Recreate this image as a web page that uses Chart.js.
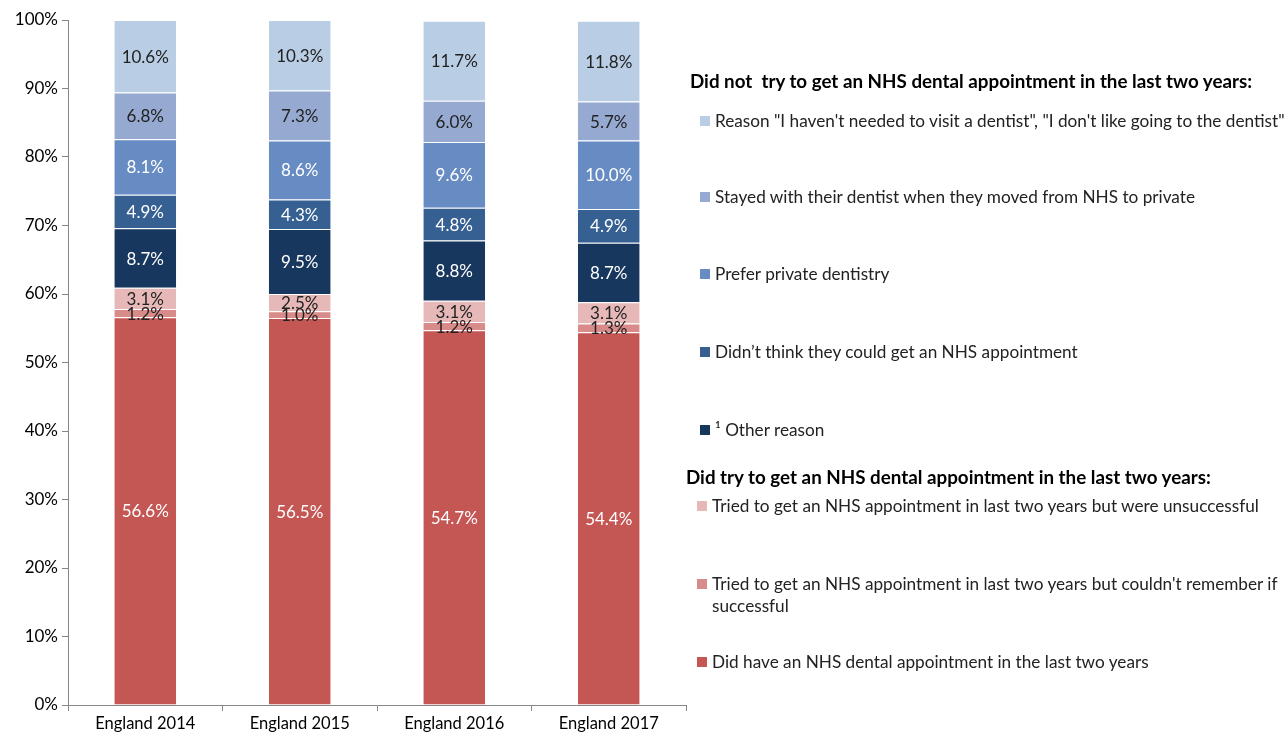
<!DOCTYPE html>
<html>
<head>
<meta charset="utf-8">
<script src="https://cdn.jsdelivr.net/npm/chart.js@4"></script>
<style>
  body { margin: 0; background: #fff; font-family: Lato, "Open Sans", sans-serif; }
  #wrap { position: relative; width: 1288px; height: 737px; overflow: hidden; }
  #chartBox { position: absolute; left: 0; top: 0; width: 692px; height: 737px; }
  #legend { position: absolute; left: 0; top: 0; width: 1288px; height: 737px; pointer-events: none; }
  .head { position: absolute; font-weight: bold; font-size: 18.8px; color: #000; white-space: pre; }
  .item { position: absolute; font-size: 17.2px; color: #222; width: 572px; line-height: 22px; }
  .sw { position: absolute; width: 10px; height: 10px; left: -15px; top: 6px; }
</style>
</head>
<body>
<div id="wrap">
  <div id="chartBox"><canvas id="dentalChart"></canvas></div>
  <div id="legend"></div>
</div>
<script>
const categories = ['England 2014', 'England 2015', 'England 2016', 'England 2017'];

const didHave = [56.6, 56.5, 54.7, 54.4];
const cantRemember = [1.2, 1.0, 1.2, 1.3];
const unsuccessful = [3.1, 2.5, 3.1, 3.1];
const otherReason = [8.7, 9.5, 8.8, 8.7];
const didntThink = [4.9, 4.3, 4.8, 4.9];
const preferPrivate = [8.1, 8.6, 9.6, 10.0];
const stayedWith = [6.8, 7.3, 6.0, 5.7];
const notNeeded = [10.6, 10.3, 11.7, 11.8];

const yTicks = [0, 10, 20, 30, 40, 50, 60, 70, 80, 90, 100];

// bottom to top
const series = [
    { label: 'Did have an NHS dental appointment in the last two years', data: didHave, color: '#C45654', text: '#ffffff' },
    { label: "Tried to get an NHS appointment in last two years but couldn't remember if successful", data: cantRemember, color: '#D98B89', text: '#222222' },
    { label: 'Tried to get an NHS appointment in last two years but were unsuccessful', data: unsuccessful, color: '#E6B8B7', text: '#222222' },
    { label: '\u00b9 Other reason', data: otherReason, color: '#17375E', text: '#ffffff' },
    { label: 'Didn\u2019t think they could get an NHS appointment', data: didntThink, color: '#366092', text: '#ffffff' },
    { label: 'Prefer private dentistry', data: preferPrivate, color: '#678CC3', text: '#ffffff' },
    { label: 'Stayed with their dentist when they moved from NHS to private', data: stayedWith, color: '#95A9D1', text: '#222222' },
    { label: 'Reason "I haven\'t needed to visit a dentist", "I don\'t like going to the dentist"', data: notNeeded, color: '#B9CDE5', text: '#222222' }
];

const labelPlugin = {
    id: 'segLabels',
    afterDatasetsDraw(chart) {
        const ctx = chart.ctx;
        ctx.save();
        ctx.font = '17px Lato, "Open Sans", sans-serif';
        ctx.textAlign = 'center';
        ctx.textBaseline = 'middle';
        chart.data.datasets.forEach(function(ds, i) {
            const meta = chart.getDatasetMeta(i);
            meta.data.forEach(function(bar, j) {
                const mid = (bar.y + bar.base) / 2;
                ctx.fillStyle = series[i].text;
                ctx.fillText(ds.data[j].toFixed(1) + '%', bar.x, mid + 1);
            });
        });
        ctx.restore();
    }
};

const ctx = document.getElementById('dentalChart').getContext('2d');
new Chart(ctx, {
    type: 'bar',
    data: {
        labels: categories,
        datasets: series.map(function(s) {
            return {
                label: s.label,
                data: s.data,
                backgroundColor: s.color,
                borderColor: '#ffffff',
                borderWidth: { top: 1, bottom: 0, left: 0, right: 0 },
                borderSkipped: false,
                categoryPercentage: 1,
                barPercentage: 0.4
            };
        })
    },
    options: {
        responsive: true,
        maintainAspectRatio: false,
        animation: false,
        layout: { padding: { top: 20, right: 6, left: 0, bottom: 0 } },
        plugins: { legend: { display: false }, tooltip: { enabled: false } },
        scales: {
            x: {
                stacked: true,
                offset: true,
                grid: { display: true, drawOnChartArea: false, drawTicks: true, tickLength: 6, color: '#868686', offset: true },
                border: { color: '#868686' },
                ticks: { color: '#000', font: { size: 16.5, family: 'Lato, "Open Sans", sans-serif' }, padding: 3 },
                afterFit: function(scale) { scale.height = 32; }
            },
            y: {
                stacked: true,
                min: 0,
                max: 100,
                afterBuildTicks: function(scale) { scale.ticks = yTicks.map(function(v) { return { value: v }; }); },
                grid: { display: true, drawOnChartArea: false, drawTicks: true, tickLength: 6, color: '#868686' },
                border: { color: '#868686' },
                ticks: {
                    color: '#000',
                    font: { size: 17, family: 'Lato, "Open Sans", sans-serif' },
                    padding: 4,
                    callback: function(v) { return v + '%'; }
                },
                afterFit: function(scale) { scale.width = 68; }
            }
        }
    },
    plugins: [labelPlugin]
});

// legend on the right, top entry first
const legend = document.getElementById('legend');
function addHead(text, x, y) {
    const d = document.createElement('div');
    d.className = 'head';
    d.style.left = x + 'px';
    d.style.top = y + 'px';
    d.textContent = text;
    legend.appendChild(d);
}
function addItem(s, x, y) {
    const d = document.createElement('div');
    d.className = 'item';
    d.style.left = x + 'px';
    d.style.top = y + 'px';
    d.textContent = s.label;
    const sw = document.createElement('span');
    sw.className = 'sw';
    sw.style.background = s.color;
    d.appendChild(sw);
    legend.appendChild(d);
}
addHead('Did not  try to get an NHS dental appointment in the last two years:', 690, 69);
const topY = [110, 186, 263, 341, 419];
for (let k = 0; k < 5; k++) {
    addItem(series[7 - k], 715, topY[k]);
}
addHead('Did try to get an NHS dental appointment in the last two years:', 686, 465);
const botY = [495, 573, 651];
for (let k = 0; k < 3; k++) {
    addItem(series[2 - k], 712, botY[k]);
}
</script>
</body>
</html>
